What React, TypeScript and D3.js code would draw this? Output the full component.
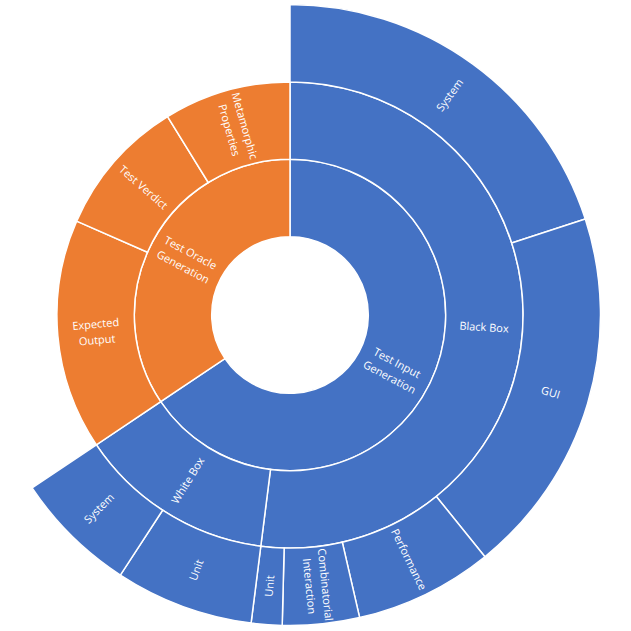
import React, { useRef, useEffect } from "react";
import * as d3 from "d3";

// hierarchy (leaf counts)
const topLevel = ["Test Input Generation", "Test Oracle Generation"];
const inputGroups = ["Black Box", "White Box"];
const blackBoxLabels = ["System", "GUI", "Performance", "Combinatorial Interaction", "Unit"];
const blackBoxCounts = [25, 24, 9, 5, 2];
const whiteBoxLabels = ["Unit", "System"];
const whiteBoxCounts = [9, 8];
const oracleLabels = ["Expected Output", "Test Verdict", "Metamorphic Properties"];
const oracleCounts = [20, 12, 11];
const topColors = ["#4472C4", "#ED7D31"];

const WIDTH = 631;
const HEIGHT = 631;
const cx = 290;
const cy = 315;

const leaves = (names: string[], counts: number[]) =>
  names.map((name, i) => ({ name, value: counts[i] }));

const buildTree = () => ({
  name: "root",
  children: [
    {
      name: topLevel[0],
      children: [
        { name: inputGroups[0], children: leaves(blackBoxLabels, blackBoxCounts) },
        { name: inputGroups[1], children: leaves(whiteBoxLabels, whiteBoxCounts) },
      ],
    },
    { name: topLevel[1], children: leaves(oracleLabels, oracleCounts) },
  ],
});

// greedy wrap, roughly how excel breaks labels inside a ring
const wrap = (label: string, maxChars = 12) => {
  const lines: string[] = [];
  let cur = "";
  label.split(" ").forEach((w) => {
    const next = cur ? cur + " " + w : w;
    if (next.length > maxChars && cur) {
      lines.push(cur);
      cur = w;
    } else cur = next;
  });
  if (cur) lines.push(cur);
  return lines;
};

const Sunburst = () => {
  const svgRef = useRef<SVGSVGElement | null>(null);

  useEffect(() => {
    const svg = d3.select(svgRef.current);
    const root = d3
      .hierarchy<any>(buildTree())
      .sum((d: any) => d.value || 0);
    d3.partition<any>().size([2 * Math.PI, 4])(root);

    const radius = d3.scaleLinear().domain([1, 4]).range([78.3, 310.5]);
    const color = d3.scaleOrdinal<string, string>().domain(topLevel).range(topColors);
    const topOf = (d: any) => (d.depth === 1 ? d : d.ancestors().find((a: any) => a.depth === 1));

    const arc = d3
      .arc<any>()
      .startAngle((d) => d.x0)
      .endAngle((d) => d.x1)
      .innerRadius((d) => radius(d.y0))
      .outerRadius((d) => radius(d.y1));

    const g = svg.append("g").attr("transform", `translate(${cx},${cy})`);
    const nodes = root.descendants().filter((d) => d.depth > 0);

    g.selectAll("path")
      .data(nodes)
      .enter()
      .append("path")
      .attr("d", arc)
      .attr("fill", (d) => color(topOf(d).data.name))
      .attr("stroke", "#ffffff")
      .attr("stroke-width", 1.5);

    const labels = g
      .selectAll("text")
      .data(nodes)
      .enter()
      .append("text")
      .attr("transform", (d: any) => {
        const a = (d.x0 + d.x1) / 2;
        const r = radius((d.y0 + d.y1) / 2);
        const deg = (a * 180) / Math.PI;
        const rot = deg < 180 ? deg - 90 : deg - 270;
        return `translate(${r * Math.sin(a)},${-r * Math.cos(a)}) rotate(${rot})`;
      })
      .attr("text-anchor", "middle")
      .style("font-family", "'Open Sans', 'Noto Sans', sans-serif")
      .style("font-size", "11px")
      .style("fill", "#ffffff");

    labels.each(function (d: any) {
      const lines = wrap(d.data.name);
      const lh = 16;
      d3.select(this)
        .selectAll("tspan")
        .data(lines)
        .enter()
        .append("tspan")
        .attr("x", 0)
        .attr("y", (_, i) => (i - (lines.length - 1) / 2) * lh)
        .attr("dy", "0.35em")
        .text((t) => t);
    });

    return () => {
      svg.selectAll("*").remove();
    };
  }, []);

  return (
    <svg
      ref={svgRef}
      width={WIDTH}
      height={HEIGHT}
      style={{ position: "absolute", left: 0, top: 0, background: "#ffffff" }}
    ></svg>
  );
};

export default function App() {
  return <Sunburst />;
}
